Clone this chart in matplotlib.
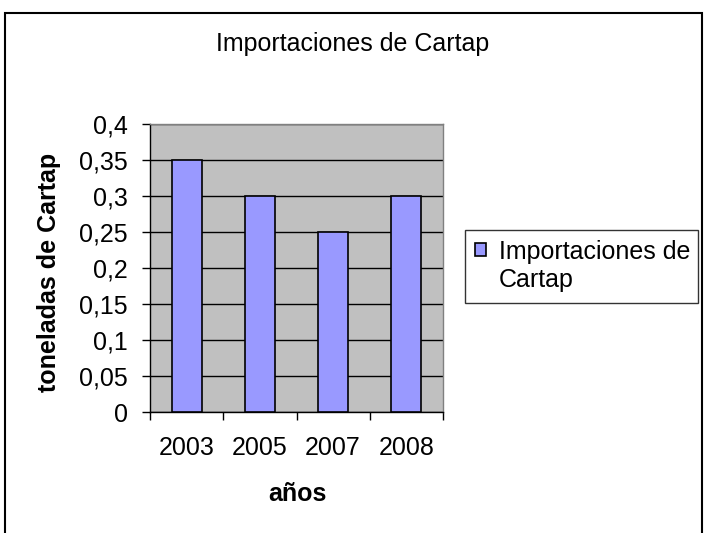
import matplotlib
matplotlib.use('Agg')
import matplotlib.pyplot as plt
from matplotlib.patches import Rectangle, Patch
from matplotlib.ticker import FixedLocator

plt.rcParams['font.family'] = ['Liberation Sans', 'DejaVu Sans']

# datos
anios = ['2003', '2005', '2007', '2008']
toneladas = [0.35, 0.30, 0.25, 0.30]
yticks = [0, 0.05, 0.1, 0.15, 0.2, 0.25, 0.3, 0.35, 0.4]
ytick_labels = ['0', '0,05', '0,1', '0,15', '0,2', '0,25', '0,3', '0,35', '0,4']
serie = 'Importaciones de Cartap'

W, H = 704, 533
FS = 18
fig = plt.figure(figsize=(W / 100, H / 100), dpi=100)
fig.patch.set_facecolor('white')

# marco exterior del grafico (el borde inferior queda fuera de la imagen)
fig.patches.append(Rectangle((5 / W, -0.05), 697 / W, 1.05 - 13 / H,
                             transform=fig.transFigure, fill=False,
                             edgecolor='black', linewidth=1.5, clip_on=False))

ax = fig.add_axes([150 / W, 1 - 412 / H, 293 / W, 288 / H])
ax.set_facecolor('#C0C0C0')

x = range(len(anios))
bars = ax.bar(x, toneladas, width=0.41, color='#9999FF', edgecolor='black',
              linewidth=1.2, label=serie, zorder=3)

ax.set_xlim(-0.5, len(anios) - 0.5)
ax.set_ylim(0, 0.4)
ax.set_yticks(yticks)
ax.set_yticklabels(ytick_labels, fontsize=FS)
ax.yaxis.grid(True, color='black', linewidth=1, zorder=1)

# marcas del eje x en los limites de categoria
ax.set_xticks(list(x))
ax.set_xticklabels(anios, fontsize=FS)
ax.xaxis.set_minor_locator(FixedLocator([i - 0.5 for i in range(len(anios) + 1)]))
ax.tick_params(axis='x', which='major', length=0, pad=17)
ax.tick_params(axis='x', which='minor', length=5.5, width=1, direction='out', color='black')
ax.tick_params(axis='y', length=6, width=1, direction='out', pad=10)

for side in ['top', 'right']:
    ax.spines[side].set_color('#808080')
for side in ['left', 'bottom']:
    ax.spines[side].set_color('black')
for s in ax.spines.values():
    s.set_linewidth(1)

# titulos
fig.text(353 / W, 1 - 44 / H, serie, ha='center', va='center', fontsize=FS)
fig.text(49 / W, 1 - 272 / H, 'toneladas de Cartap', rotation=90, ha='center',
         va='center', fontsize=FS, fontweight='bold')
fig.text(297 / W, 1 - 494 / H, 'años', ha='center', va='center',
         fontsize=FS, fontweight='bold')

# leyenda: el marcador va alineado con la primera linea del texto
vacio = Patch(facecolor='none', edgecolor='none')
leg = fig.legend(handles=[bars, vacio], labels=['Importaciones de', 'Cartap'],
                 loc='center left', mode='expand',
                 bbox_to_anchor=(465 / W, 1 - 303 / H, 233 / W, 74 / H),
                 fontsize=FS, frameon=True, fancybox=False, borderaxespad=0,
                 handlelength=0.42, handleheight=0.42, handletextpad=0.55,
                 borderpad=0.4, labelspacing=0.2)
leg.get_frame().set_edgecolor('black')
leg.get_frame().set_linewidth(1)

plt.savefig('out.png', dpi=100)
